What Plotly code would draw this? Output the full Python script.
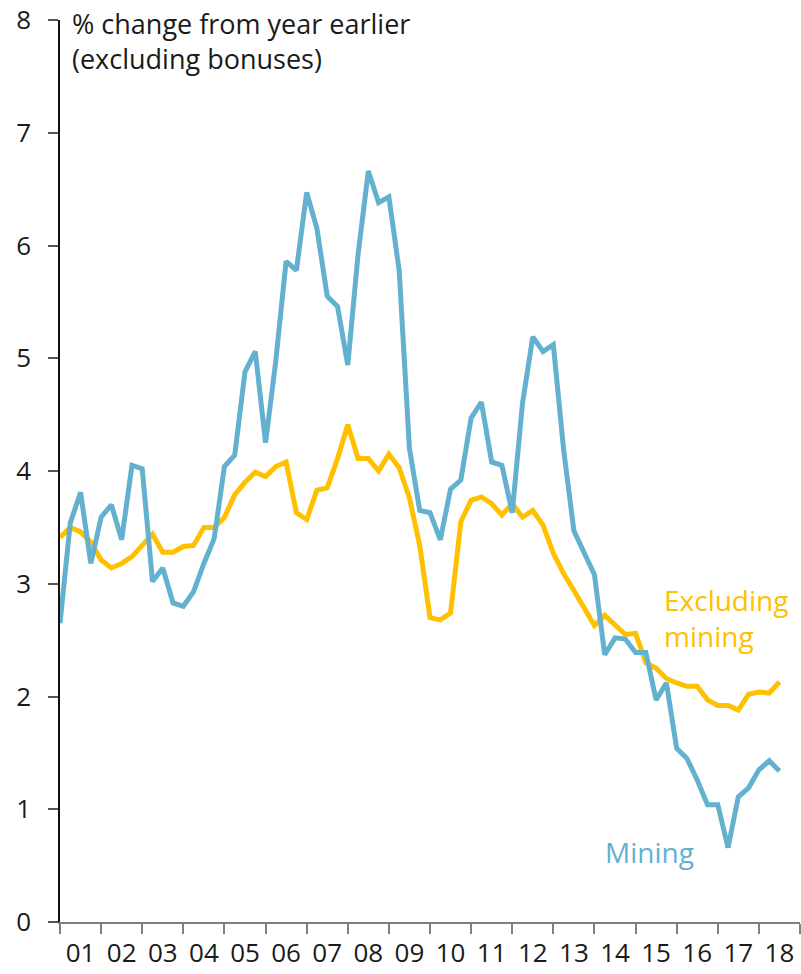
import plotly.graph_objects as go

# Quarterly series, 2001 Q1 to 2018 Q3 (% change from year earlier)
start_year = 2001
mining = [
    2.65, 3.54, 3.81, 3.18, 3.59, 3.70, 3.39, 4.05, 4.02, 3.02, 3.14, 2.83,
    2.80, 2.93, 3.18, 3.40, 4.04, 4.14, 4.88, 5.06, 4.25, 4.98, 5.86, 5.78,
    6.47, 6.15, 5.55, 5.46, 4.94, 5.92, 6.66, 6.38, 6.43, 5.78, 4.20, 3.65,
    3.63, 3.39, 3.84, 3.92, 4.47, 4.61, 4.08, 4.05, 3.63, 4.60, 5.19, 5.06,
    5.12, 4.19, 3.47, 3.27, 3.08, 2.37, 2.52, 2.51, 2.39, 2.39, 1.97, 2.12,
    1.54, 1.45, 1.26, 1.04, 1.04, 0.66, 1.11, 1.19, 1.35, 1.43, 1.34,
]
excluding_mining = [
    3.41, 3.50, 3.46, 3.37, 3.21, 3.14, 3.18, 3.24, 3.34, 3.44, 3.28, 3.28,
    3.33, 3.34, 3.50, 3.50, 3.59, 3.79, 3.90, 3.99, 3.95, 4.04, 4.08, 3.63,
    3.57, 3.83, 3.85, 4.11, 4.41, 4.11, 4.11, 4.00, 4.15, 4.03, 3.76, 3.34,
    2.70, 2.68, 2.74, 3.55, 3.74, 3.77, 3.71, 3.61, 3.71, 3.59, 3.65, 3.52,
    3.27, 3.09, 2.94, 2.79, 2.63, 2.72, 2.63, 2.55, 2.56, 2.30, 2.25, 2.16,
    2.12, 2.09, 2.09, 1.97, 1.92, 1.92, 1.88, 2.02, 2.04, 2.03, 2.13,
]
year_labels = ["01", "02", "03", "04", "05", "06", "07", "08", "09",
               "10", "11", "12", "13", "14", "15", "16", "17", "18"]
y_ticks = [0, 1, 2, 3, 4, 5, 6, 7, 8]

x = [start_year + i / 4 for i in range(len(mining))]

BLUE = "#63B1CF"
YELLOW = "#FFC000"
FONT = "Open Sans"

fig = go.Figure()
fig.add_trace(go.Scatter(x=x, y=excluding_mining, mode="lines",
                         line=dict(color=YELLOW, width=5), name="Excluding mining"))
fig.add_trace(go.Scatter(x=x, y=mining, mode="lines",
                         line=dict(color=BLUE, width=5), name="Mining"))

year_starts = [start_year + k for k in range(len(year_labels) + 1)]
label_pos = [start_year + k + 0.5 for k in range(len(year_labels))]

fig.update_layout(
    width=801, height=974,
    margin=dict(l=60, r=1, t=20, b=52),
    paper_bgcolor="white", plot_bgcolor="white",
    showlegend=False,
    font=dict(family=FONT, color="#1a1a1a", size=26),
    xaxis=dict(
        range=[start_year, start_year + len(year_labels)],
        tickmode="array", tickvals=label_pos, ticktext=year_labels,
        ticks="", showgrid=False, zeroline=False,
        showline=True, linecolor="#7f7f7f", linewidth=2,
        tickfont=dict(size=26), ticklabelstandoff=7,
        minor=dict(tickmode="array", tickvals=year_starts, ticks="outside",
                   ticklen=10, tickwidth=1.5, tickcolor="#7f7f7f", showgrid=False),
    ),
    yaxis=dict(
        range=[0, 8], tickmode="array", tickvals=y_ticks,
        ticks="outside", ticklen=10, tickwidth=1.5, tickcolor="#555555",
        showgrid=False, zeroline=False,
        showline=True, linecolor="#111111", linewidth=1.5,
        tickfont=dict(size=26), ticklabelstandoff=12,
    ),
)

fig.add_annotation(
    xref="paper", yref="paper", x=0.013, y=1.019, xanchor="left", yanchor="top",
    text="% change from year earlier<br>(excluding bonuses)", showarrow=False,
    align="left", font=dict(size=27, color="#1a1a1a", family=FONT),
)
fig.add_annotation(
    xref="x", yref="y", x=2015.64, y=2.70, xanchor="left", yanchor="middle",
    text="Excluding<br>mining", showarrow=False, align="left",
    font=dict(size=28, color=YELLOW, family=FONT),
)
fig.add_annotation(
    xref="x", yref="y", x=2015.35, y=0.62, xanchor="center", yanchor="middle",
    text="Mining", showarrow=False,
    font=dict(size=28, color=BLUE, family=FONT),
)

fig.write_html("out.html")
